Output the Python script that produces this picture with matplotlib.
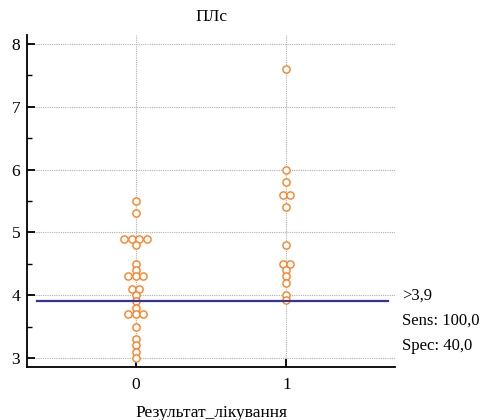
import numpy as np
import matplotlib
matplotlib.use('Agg')
import matplotlib.pyplot as plt
from matplotlib.ticker import MultipleLocator

# Data
group_labels = ['0', '1']
group0 = [5.5, 5.3, 4.9, 4.9, 4.9, 4.9, 4.8, 4.5, 4.4, 4.3, 4.3, 4.3,
          4.1, 4.1, 4.0, 3.9, 3.8, 3.7, 3.7, 3.7, 3.5, 3.3, 3.2, 3.1, 3.0]
group1 = [7.6, 6.0, 5.8, 5.6, 5.6, 5.4, 4.8, 4.5, 4.5, 4.4, 4.3, 4.2,
          4.0, 3.92]
cutoff = 3.9
cutoff_text = ['>3,9', 'Sens: 100,0', 'Spec: 40,0']

plt.rcParams['font.family'] = ['Liberation Serif', 'DejaVu Serif']


def spread(values, step=0.05):
    """Side-by-side offsets for repeated values."""
    vals = np.asarray(values)
    offs = np.zeros(len(vals))
    for v in np.unique(vals):
        idx = np.where(vals == v)[0]
        n = len(idx)
        offs[idx] = (np.arange(n) - (n - 1) / 2) * step
    return offs


fig = plt.figure(figsize=(4.85, 4.2), dpi=100)
ax = fig.add_axes([0.0557, 0.1262, 0.7587, 0.79])

for i, g in enumerate([group0, group1]):
    xs = i + spread(g)
    ax.plot(xs, g, 'o', ms=5.2, mfc='white', mec='#ff7f1f', mew=1.0,
            linestyle='none', zorder=3)

ax.axhline(cutoff, xmin=0.027, xmax=0.98, color='#33339a', lw=1.6, zorder=4)

ax.set_xlim(-0.72, 1.72)
ax.set_ylim(2.855, 8.14)
ax.set_xticks([0, 1])
ax.set_xticklabels(group_labels)
ax.yaxis.set_major_locator(MultipleLocator(1))
ax.yaxis.set_minor_locator(MultipleLocator(0.5))
ax.grid(True, which='major', color='#b0b0b0', linestyle=(0, (1, 1)), lw=0.8)

for s in ['top', 'right']:
    ax.spines[s].set_visible(False)
for s in ['left', 'bottom']:
    ax.spines[s].set_linewidth(1.3)

ax.tick_params(axis='y', which='major', direction='in', length=6, width=1.3,
               labelsize=12.5, pad=5)
ax.tick_params(axis='y', which='minor', direction='in', length=3.5, width=1.0)
ax.tick_params(axis='x', which='major', direction='in', length=6, width=1.3,
               labelsize=12.5, pad=7)

ax.set_title('ПЛс', fontsize=12.5, pad=10)
ax.set_xlabel('Результат_лікування', fontsize=12.5, labelpad=9)

for k, t in enumerate(cutoff_text):
    ax.annotate(t, xy=(1.0, cutoff), xycoords=('axes fraction', 'data'),
                xytext=(5, 4 - 18 * k), textcoords='offset points',
                fontsize=12, va='center', ha='left', annotation_clip=False)

fig.savefig('out.png', dpi=100)
